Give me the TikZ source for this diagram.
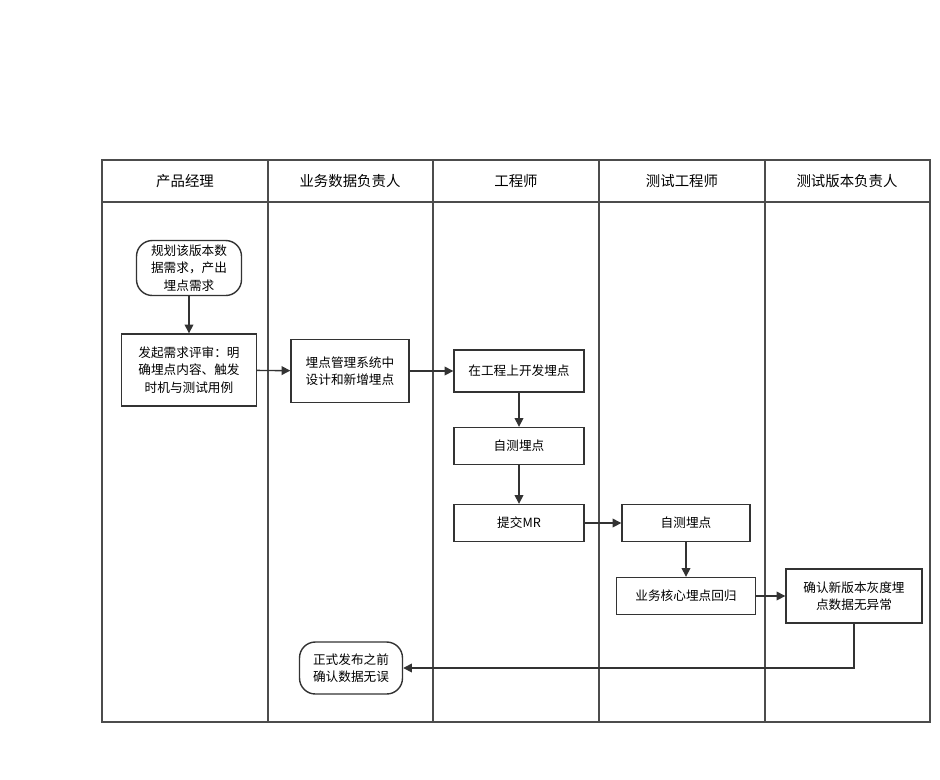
\documentclass[tikz,border=0pt]{standalone}
\usepackage{fontspec}
\setmainfont{Noto Sans CJK SC}
\usetikzlibrary{arrows.meta,positioning}

\tikzset{
  task/.style={draw=black!80,thick,fill=white,align=center,inner sep=2pt,font=\fontsize{7.2}{10}\selectfont},
  term/.style={task,rounded corners=9pt},
  flow/.style={-{Triangle[length=5pt,width=5pt]},thick,black!80},
  lane/.style={thick,black!70},
  head/.style={font=\fontsize{8.2}{10}\selectfont}
}

\begin{document}
\begin{tikzpicture}[x=0.02cm,y=-0.02cm]
            \useasboundingbox (0,0) rectangle (940,779);
            % lanes
            \draw[lane] (102,160) rectangle (930,722);
            \draw[lane] (102,202) -- (930,202);
            \foreach \x in {268,433,599,765}
               \draw[lane] (\x,160) -- (\x,722);
            \node[head] (h1) at (185,181){产品经理};
            \node[head] (h2) at (350,181){业务数据负责人};
            \node[head] (h3) at (516,181){工程师};
            \node[head] (h4) at (682,181){测试工程师};
            \node[head] (h5) at (847,181){测试版本负责人};

            % tasks
            \node[term,minimum width=2.1cm,minimum height=1.1cm] (plan) at (189,268){规划该版本数\\据需求，产出\\埋点需求};
            \node[task,minimum width=2.7cm,minimum height=1.44cm] (review) at (189,370){发起需求评审：明\\确埋点内容、触发\\时机与测试用例};
            \node[task,minimum width=2.36cm,minimum height=1.26cm] (design) at (350,371){埋点管理系统中\\设计和新增埋点};
            \node[task,minimum width=2.6cm,minimum height=0.84cm] (dev) at (519,371){在工程上开发埋点};
            \node[task,minimum width=2.6cm,minimum height=0.74cm] (self) at (519,446){自测埋点};
            \node[task,minimum width=2.6cm,minimum height=0.74cm] (mr) at (519,523){提交MR};
            \node[task,minimum width=2.56cm,minimum height=0.74cm] (qa) at (686,523){自测埋点};
            \node[task,minimum width=2.78cm,minimum height=0.74cm] (core) at (686,596){业务核心埋点回归};
            \node[task,minimum width=2.72cm,minimum height=1.08cm] (gray) at (854,596){确认新版本灰度埋\\点数据无异常};
            \node[term,minimum width=2.06cm,minimum height=1.04cm] (release) at (351,668){正式发布之前\\确认数据无误};

            % connectors
            \draw[flow] (plan) -- (review);
            \draw[flow] (review) -- (design);
            \draw[flow] (design) -- (dev);
            \draw[flow] (dev) -- (self);
            \draw[flow] (self) -- (mr);
            \draw[flow] (mr) -- (qa);
            \draw[flow] (qa) -- (core);
            \draw[flow] (core) -- (gray);
            \draw[flow] (gray.south) |- (release.east);
\end{tikzpicture}
\end{document}
